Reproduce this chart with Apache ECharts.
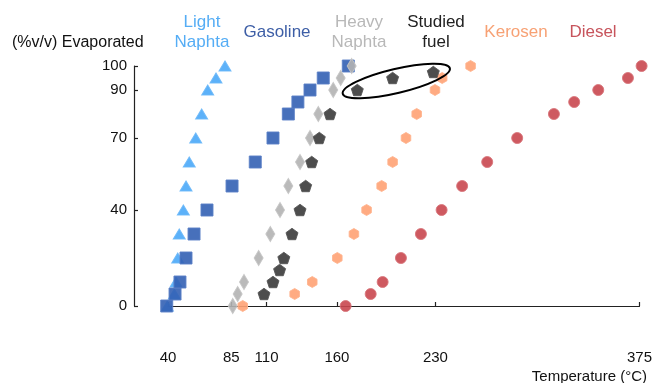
<!DOCTYPE html>
<html>
<head>
<meta charset="utf-8">
<script src="https://cdn.jsdelivr.net/npm/echarts@6/dist/echarts.min.js"></script>
<style>html,body{margin:0;padding:0;background:#fff}#c{width:655px;height:383px}</style>
</head>
<body>
<div id="c"></div>
<script>
// Data (x = temperature °C, y = % v/v evaporated)
const xTicks = [40, 85, 110, 160, 230, 375];
const yTicks = [0, 40, 70, 90, 100];

const lightNaphtaX = [39.5, 44.5, 45.7, 46.9, 48.0, 50.9, 52.8, 55.1, 59.7, 63.9, 68.2, 74.1, 80.5];
const lightNaphtaY = [0, 5, 10, 20, 30, 40, 50, 60, 70, 80, 90, 95, 100];

const gasolineX = [39.1, 45.0, 48.5, 52.8, 58.5, 67.7, 85.5, 102.0, 114.6, 125.5, 132.3, 140.9, 150.3, 168.1];
const gasolineY = [0, 5, 10, 20, 30, 40, 50, 60, 70, 80, 85, 90, 95, 100];

const heavyNaphtaX = [86.0, 89.5, 94.0, 104.4, 112.7, 119.6, 125.5, 133.8, 140.9, 146.8, 157.4, 162.7, 170.5];
const heavyNaphtaY = [0, 5, 10, 20, 30, 40, 50, 60, 70, 80, 90, 95, 100];

const studiedX = [108.2, 114.6, 119.3, 122.3, 128.1, 133.8, 137.8, 142.1, 147.5, 155.1, 174.5, 199.6, 228.5];
const studiedY = [5, 10, 15, 20, 30, 40, 50, 60, 70, 80, 90, 95, 97.5];

const kerosenX = [93.1, 130.0, 142.5, 160.3, 172.1, 181.1, 191.8, 199.6, 209.1, 216.7, 229.7, 234.8, 255.0];
const kerosenY = [0, 5, 10, 20, 30, 40, 50, 60, 70, 80, 90, 95, 100];

const dieselX = [166.2, 184.0, 192.5, 205.5, 219.7, 234.4, 249.0, 266.8, 288.1, 314.2, 328.6, 345.7, 366.8, 376.5];
const dieselY = [0, 5, 10, 20, 30, 40, 50, 60, 70, 80, 85, 90, 95, 100];

function pts(xs, ys) { return xs.map((x, i) => [x, ys[i]]); }

const FONT = "'Liberation Sans', Arial, sans-serif";
const pentagon = 'path://M0,-10 L9.511,-3.09 L5.878,8.09 L-5.878,8.09 L-9.511,-3.09 Z';
const hexagon = 'path://M0,-10 L8.66,-5 L8.66,5 L0,10 L-8.66,5 L-8.66,-5 Z';

function ser(name, data, symbol, size, color, border, z) {
  return {
    name, type: 'scatter', data, symbol, symbolSize: size, symbolKeepAspect: true,
    clip: false, z,
    itemStyle: { color, opacity: 0.9, borderColor: border, borderWidth: 1 },
    emphasis: { disabled: true }
  };
}

const chart = echarts.init(document.getElementById('c'), null, { renderer: 'canvas' });

const axisLine = { show: true, lineStyle: { color: '#222', width: 1.2 } };

chart.setOption({
  animation: false,
  backgroundColor: '#fff',
  grid: { left: 168, right: 15, top: 66, bottom: 77 },
  xAxis: {
    type: 'value', min: 40, max: 375, offset: 39,
    axisLine, splitLine: { show: false },
    axisTick: { show: true, inside: true, length: 4, customValues: xTicks, lineStyle: { color: '#222', width: 1.2 } },
    axisLabel: { customValues: xTicks, fontSize: 15, color: '#111', fontFamily: FONT, margin: 5 }
  },
  yAxis: {
    type: 'value', min: 0, max: 100, offset: 34,
    axisLine, splitLine: { show: false },
    axisTick: { show: true, inside: true, length: 4, customValues: yTicks, lineStyle: { color: '#222', width: 1.2 } },
    axisLabel: { customValues: yTicks, fontSize: 15, color: '#111', fontFamily: FONT, margin: 7 }
  },
  series: [
    ser('Light Naphta', pts(lightNaphtaX, lightNaphtaY), 'triangle', [12, 10], '#4aa8f8', '#6cb8f8', 2),
    ser('Gasoline', pts(gasolineX, gasolineY), 'rect', 12, '#3360b4', '#5a80c6', 3),
    ser('Heavy Naphta', pts(heavyNaphtaX, heavyNaphtaY), 'diamond', [9, 15], '#b2b2b2', '#c4c4c4', 4),
    ser('Kerosen', pts(kerosenX, kerosenY), hexagon, 11, '#ffa274', '#ffb48e', 5),
    ser('Diesel', pts(dieselX, dieselY), 'circle', 11, '#c9474f', '#d8757b', 6),
    ser('Studied fuel', pts(studiedX, studiedY), pentagon, 12, '#3a3a3a', '#555', 7)
  ]
});

function txt(text, x, y, color, size, align) {
  return {
    type: 'text', x, y, z: 100,
    style: { text, fill: color, font: size + 'px ' + FONT, align: align || 'center', verticalAlign: 'middle', lineHeight: 20 }
  };
}

// Ellipse around last three studied-fuel points
const a = chart.convertToPixel({ gridIndex: 0 }, [studiedX[10], studiedY[10]]);
const b = chart.convertToPixel({ gridIndex: 0 }, [studiedX[12], studiedY[12]]);
const cx = (a[0] + b[0]) / 2 + 1, cy = (a[1] + b[1]) / 2;
const ang = Math.atan2(a[1] - b[1], b[0] - a[0]);
const half = Math.hypot(b[0] - a[0], b[1] - a[1]) / 2;

chart.setOption({
  graphic: [
    txt('(%v/v) Evaporated', 12, 43, '#111', 16, 'left'),
    txt('Light\nNaphta', 202, 32, '#55adf5', 17),
    txt('Gasoline', 277, 32, '#3d5ea6', 17),
    txt('Heavy\nNaphta', 359, 32, '#b8b8b8', 17),
    txt('Studied\nfuel', 436, 32, '#222', 17),
    txt('Kerosen', 516, 32, '#f7a174', 17),
    txt('Diesel', 593, 32, '#c7545c', 17),
    txt('Temperature (°C)', 647, 377, '#111', 15, 'right'),
    {
      type: 'ellipse', x: cx, y: cy, rotation: ang, z: 90,
      shape: { cx: 0, cy: 0, rx: half + 16, ry: 12 },
      style: { fill: 'none', stroke: '#000', lineWidth: 2 }
    }
  ]
});
</script>
</body>
</html>
